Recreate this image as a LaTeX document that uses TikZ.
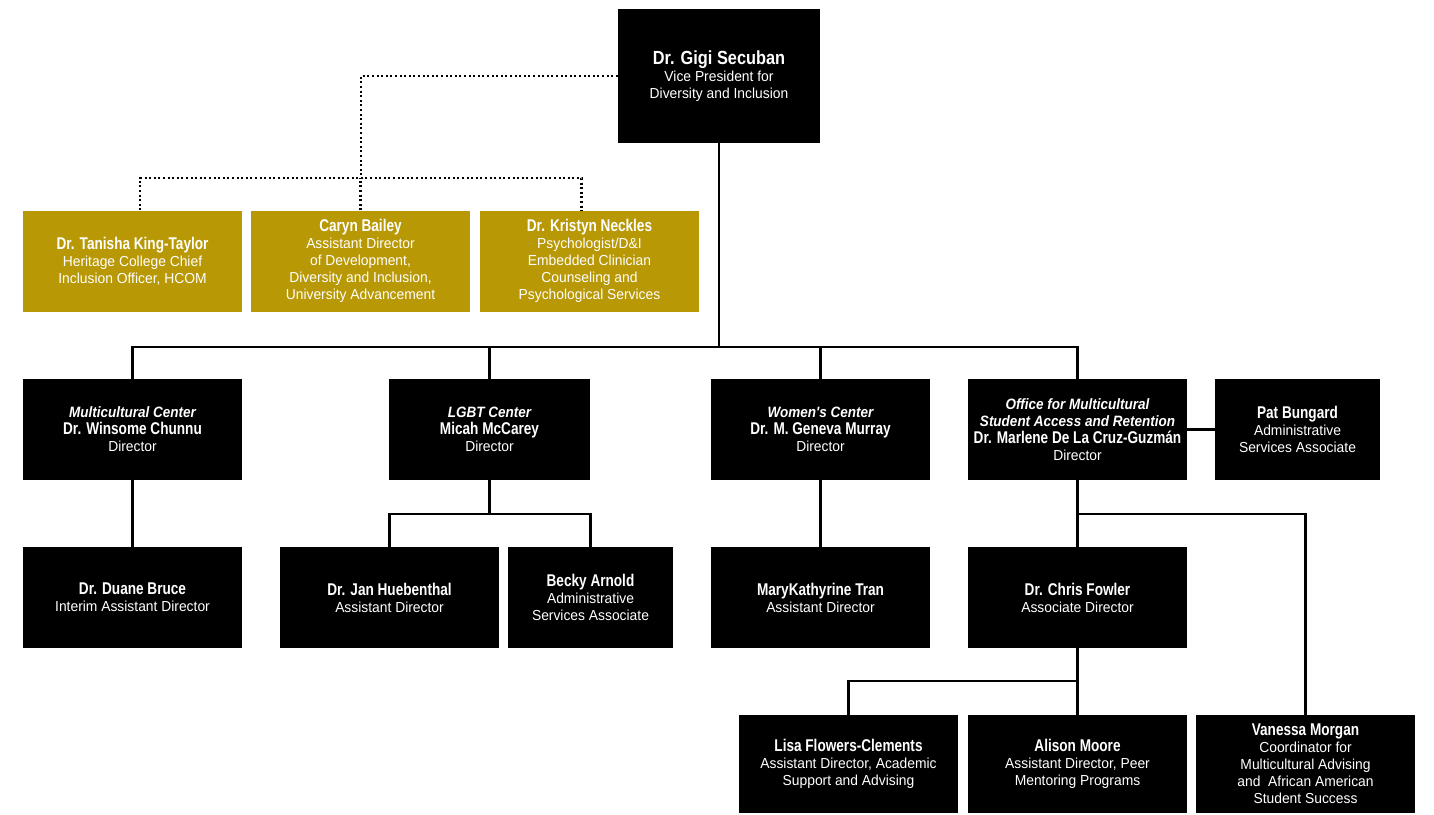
\documentclass[tikz,border=0pt]{standalone}
\usepackage{fontspec}
\setmainfont[FakeStretch=0.955]{Liberation Sans}
\newfontfamily\boldf[FakeStretch=0.8]{Liberation Sans}
\newfontfamily\topf[FakeStretch=0.86]{Liberation Sans}
\newfontfamily\itf[FakeStretch=0.9]{Liberation Sans}
\definecolor{gold}{RGB}{184,152,4}
\newcommand{\nm}[1]{{\boldf\bfseries\fontsize{17}{17}\selectfont #1}}
\newcommand{\tnm}[1]{{\topf\bfseries\fontsize{19}{18}\selectfont #1}}
\newcommand{\un}[1]{{\itf\bfseries\itshape\fontsize{15}{17}\selectfont #1}}
\tikzset{
  box/.style={fill=black,text=white,align=center,inner sep=0pt,
    minimum width=219pt,minimum height=101pt,
    font=\fontsize{14.5}{17}\selectfont},
  gbox/.style={box,fill=gold},
  conn/.style={line width=2.5pt,black},
  dot/.style={line width=2.2pt,black,dash pattern=on 2pt off 2.6pt},
}
\begin{document}
\begin{tikzpicture}[x=1pt,y=-1pt]
\useasboundingbox (0,0) rectangle (1434,814);
% top
\node[box,minimum width=202pt,minimum height=134pt] (vp) at (719,76)
  {\tnm{Dr. Gigi Secuban}\\Vice President for\\Diversity and Inclusion};
% gold row
\node[gbox] (tk) at (132.5,261) {\nm{Dr. Tanisha King-Taylor}\\Heritage College Chief\\Inclusion Officer, HCOM};
\node[gbox] (cb) at (360.5,261) {\nm{Caryn Bailey}\\Assistant Director\\of Development,\\Diversity and Inclusion,\\University Advancement};
\node[gbox] (kn) at (589.5,261) {\nm{Dr. Kristyn Neckles}\\Psychologist/D\&I\\Embedded Clinician\\Counseling and\\Psychological Services};
% row 2
\node[box] (mc) at (132.5,429.5) {\un{Multicultural Center}\\\nm{Dr. Winsome Chunnu}\\Director};
\node[box,minimum width=201pt] (lg) at (489.5,429.5) {\un{LGBT Center}\\\nm{Micah McCarey}\\Director};
\node[box] (wc) at (820.5,429.5) {\un{Women's Center}\\\nm{Dr. M. Geneva Murray}\\Director};
\node[box] (om) at (1077.5,429.5) {\un{Office for Multicultural}\\\un{Student Access and Retention}\\\nm{Dr. Marlene De La Cruz-Guzmán}\\Director};
\node[box,minimum width=165pt] (pb) at (1297.5,429.5) {\nm{Pat Bungard}\\Administrative\\Services Associate};
% row 3
\node[box] (db) at (132.5,597.5) {\nm{Dr. Duane Bruce}\\Interim Assistant Director};
\node[box] (jh) at (389.5,597.5) {\nm{Dr. Jan Huebenthal}\\Assistant Director};
\node[box,minimum width=165pt] (ba) at (590.5,597.5) {\nm{Becky Arnold}\\Administrative\\Services Associate};
\node[box] (mt) at (820.5,597.5) {\nm{MaryKathyrine Tran}\\Assistant Director};
\node[box] (cf) at (1077.5,597.5) {\nm{Dr. Chris Fowler}\\Associate Director};
% row 4
\node[box,minimum height=98pt] (lf) at (848.5,764) {\nm{Lisa Flowers-Clements}\\Assistant Director, Academic\\Support and Advising};
\node[box,minimum height=98pt] (am) at (1077.5,764) {\nm{Alison Moore}\\Assistant Director, Peer\\Mentoring Programs};
\node[box,minimum height=98pt] (vm) at (1305.5,764) {\nm{Vanessa Morgan}\\Coordinator for\\Multicultural Advising\\and\ \ African American\\Student Success};
% dotted connectors
\coordinate (dbus) at (361,178);
\draw[dot] (vp.west) -| (dbus);
\draw[dot] ([xshift=7.5pt]tk.north) -- ([xshift=7.5pt]tk.north|-dbus) -- ([xshift=-8pt]kn.north|-dbus) -- ([xshift=-8pt]kn.north);
\draw[dot] (cb.north) -- (cb.north|-dbus);
% solid connectors
\coordinate (bus) at (719,347);
\draw[conn] (vp.south) -- (bus);
\draw[conn] (mc.north) -- (mc.north|-bus) -- (om.north|-bus) -- (om.north);
\draw[conn] (lg.north) -- (lg.north|-bus);
\draw[conn] (wc.north) -- (wc.north|-bus);
\draw[conn] (om.east) -- (pb.west);
\draw[conn] (mc.south) -- (db.north);
\draw[conn] (wc.south) -- (mt.north);
\coordinate (lbus) at (489.5,514);
\draw[conn] (lg.south) -- (lbus);
\draw[conn] (jh.north) -- (jh.north|-lbus) -- (ba.north|-lbus) -- (ba.north);
\coordinate (obus) at (1077.5,514);
\draw[conn] (om.south) -- (cf.north);
\draw[conn] (obus) -| (vm.north);
\coordinate (cbus) at (1077.5,681);
\draw[conn] (cf.south) -- (am.north);
\draw[conn] (cbus) -| (lf.north);
\end{tikzpicture}
\end{document}
